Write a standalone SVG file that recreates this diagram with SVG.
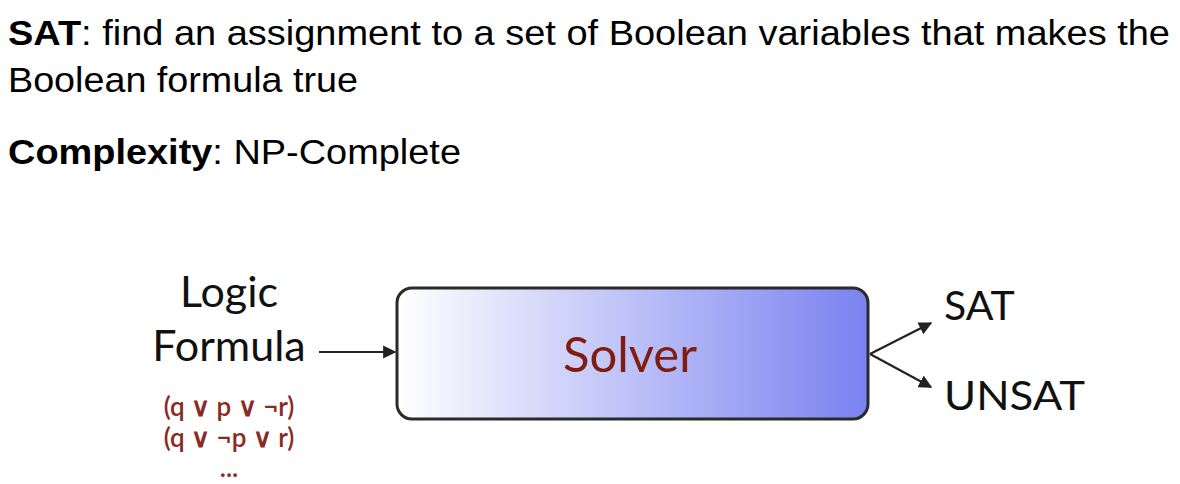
<svg xmlns="http://www.w3.org/2000/svg" width="1180" height="484" viewBox="0 0 1180 484">
<style>
.hd{font-family:"Liberation Sans",Arial,sans-serif;font-size:35px;fill:#000}
.b{font-weight:bold}
.lbl{font-family:Lato,"Open Sans",sans-serif;font-size:43px;fill:#111}
.out{font-family:Lato,"Open Sans",sans-serif;font-size:41px;fill:#111}
.fm{font-family:Lato,"Open Sans",sans-serif;font-size:26px;font-weight:600;fill:#8b2a22}
.conn{stroke:#222;stroke-width:2.2;fill:none}
</style>
<defs>
<linearGradient id="g" x1="0" y1="0" x2="1" y2="0">
<stop offset="0" stop-color="#ffffff"/>
<stop offset="1" stop-color="#7a82f0"/>
</linearGradient>
<marker id="ah" viewBox="0 0 10 10" refX="9" refY="5" markerWidth="6" markerHeight="6" orient="auto">
<path d="M0,0 L10,5 L0,10 z" fill="#222"/>
</marker>
</defs>
<rect width="1180" height="484" fill="#fff"/>
<g id="header">
<text class="hd" x="8" y="45" textLength="1162" lengthAdjust="spacingAndGlyphs"><tspan class="b">SAT</tspan>: find an assignment to a set of Boolean variables that makes the</text>
<text class="hd" x="8" y="92" textLength="350" lengthAdjust="spacingAndGlyphs">Boolean formula true</text>
<text class="hd" x="8" y="164" textLength="453" lengthAdjust="spacingAndGlyphs"><tspan class="b">Complexity</tspan>: NP-Complete</text>
</g>
<g id="input">
<text class="lbl" x="229" y="307" text-anchor="middle">Logic</text>
<text class="lbl" x="229" y="361" text-anchor="middle">Formula</text>
<text class="fm" x="229" y="416" text-anchor="middle">(q ∨ p ∨ ¬r)</text>
<text class="fm" x="229" y="447" text-anchor="middle">(q ∨ ¬p ∨ r)</text>
<text class="fm" x="229" y="477" text-anchor="middle">...</text>
</g>
<g id="solver">
<rect x="397" y="288" width="471" height="131" rx="15" fill="url(#g)" stroke="#2a2a2a" stroke-width="3"/>
<text x="630" y="372" text-anchor="middle" font-family="Lato,'Open Sans',sans-serif" font-size="49" fill="#801c12">Solver</text>
</g>
<g id="outputs">
<text class="out" x="944" y="320">SAT</text>
<text class="out" x="944" y="410" textLength="141" lengthAdjust="spacingAndGlyphs">UNSAT</text>
</g>
<g id="connectors">
<line class="conn" x1="319" y1="352" x2="395" y2="352" marker-end="url(#ah)"/>
<line class="conn" x1="870" y1="354" x2="931" y2="323" marker-end="url(#ah)"/>
<line class="conn" x1="870" y1="354" x2="931" y2="387" marker-end="url(#ah)"/>
</g>
</svg>
